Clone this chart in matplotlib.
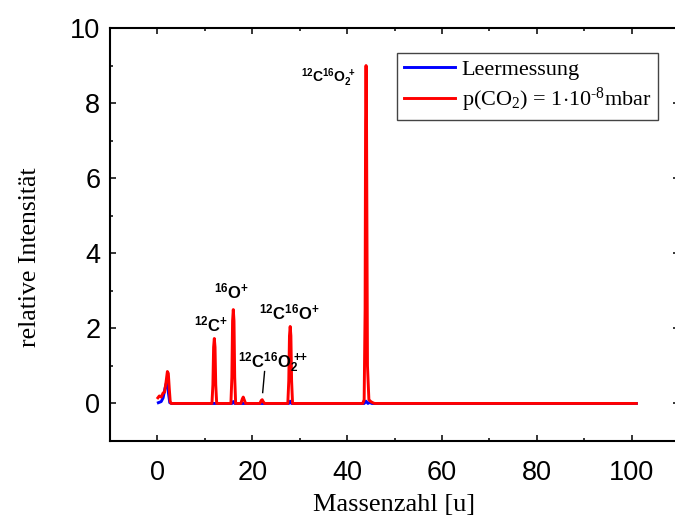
import matplotlib
matplotlib.use('Agg')
import matplotlib.pyplot as plt
from matplotlib.ticker import MultipleLocator

# --- Style Settings ---
plt.rcParams['font.family'] = ['Liberation Sans', 'DejaVu Sans']
plt.rcParams['mathtext.fontset'] = 'custom'
plt.rcParams['mathtext.rm'] = 'Liberation Serif'
plt.rcParams['mathtext.it'] = 'Liberation Serif:italic'
plt.rcParams['mathtext.bf'] = 'Liberation Sans:bold'

SERIF = ['Liberation Serif', 'DejaVu Serif']
BLUE = '#0000ff'
RED = '#ff0000'

# --- Data ---
blank_mass = [0.2, 0.8, 1.2, 1.6, 1.9, 2.1, 2.3, 2.6, 3.0,
              15.7, 16.0, 16.3,
              27.7, 28.0, 28.3,
              43.6, 44.0, 44.4, 44.8, 45.2,
              101.0]
blank_int = [0.02, 0.05, 0.15, 0.4, 0.55, 0.6, 0.3, 0.02, 0.0,
             0.0, 0.05, 0.0,
             0.0, 0.06, 0.0,
             0.0, 0.06, 0.0, 0.03, 0.0,
             0.0]

co2_mass = [0.1, 0.4, 0.8, 1.2, 1.5, 1.8, 2.1, 2.3, 2.5, 2.7, 2.9,
            11.5, 11.7, 11.85, 12.0, 12.15, 12.3, 12.5,
            15.5, 15.7, 15.85, 16.0, 16.15, 16.3, 16.5,
            17.6, 17.9, 18.1, 18.3, 18.6,
            21.6, 21.9, 22.1, 22.3, 22.6,
            27.5, 27.7, 27.85, 28.0, 28.15, 28.3, 28.5,
            43.3, 43.6, 43.8, 43.9, 44.0, 44.1, 44.3, 44.6, 45.0, 45.4, 45.8,
            101.0]
co2_int = [0.15, 0.2, 0.17, 0.28, 0.3, 0.55, 0.85, 0.8, 0.4, 0.05, 0.0,
           0.0, 0.5, 1.5, 1.73, 1.5, 0.5, 0.0,
           0.0, 0.7, 2.2, 2.5, 2.2, 0.7, 0.0,
           0.0, 0.12, 0.17, 0.1, 0.0,
           0.0, 0.08, 0.1, 0.05, 0.0,
           0.0, 0.6, 1.8, 2.05, 1.8, 0.6, 0.0,
           0.0, 0.1, 2.5, 7.5, 9.0, 7.5, 1.0, 0.1, 0.05, 0.02, 0.0,
           0.0]

# peak labels: (text, x, y, fontsize)
peak_labels = [
    (r'$\mathbf{^{12}C^{16}O_2^{\ +}}$', 36.1, 8.67, 10),
    (r'$\mathbf{^{16}O^{+}}$', 15.7, 2.98, 12),
    (r'$\mathbf{^{12}C^{+}}$', 11.4, 2.1, 12),
    (r'$\mathbf{^{12}C^{16}O_2^{\ {+}{+}}}$', 24.3, 1.09, 12),
    (r'$\mathbf{^{12}C^{16}O^{+}}$', 27.9, 2.42, 12),
]

fig = plt.figure(figsize=(6.75, 5.19), dpi=100)
ax = fig.add_axes([110 / 675, 78 / 519, 569 / 675, 413 / 519])

ax.plot(blank_mass, blank_int, color=BLUE, lw=2.1, label='Leermessung')
ax.plot(co2_mass, co2_int, color=RED, lw=2.1,
        label=r'p(CO$_2$) = 1$\cdot$10$^{\text{-}8}$mbar')

for txt, x, y, fs in peak_labels:
    ax.text(x, y, txt, ha='center', va='center', fontsize=fs)

# pointer to the small m/z 22 peak
ax.plot([22.6, 22.2], [0.85, 0.29], color='black', lw=1)

ax.set_xlim(-10, 110)
ax.set_ylim(-1, 10)
ax.xaxis.set_major_locator(MultipleLocator(20))
ax.xaxis.set_minor_locator(MultipleLocator(10))
ax.yaxis.set_major_locator(MultipleLocator(2))
ax.yaxis.set_minor_locator(MultipleLocator(1))
ax.tick_params(which='both', direction='in', top=True, right=True, width=1.1)
ax.tick_params(which='major', length=4.5, labelsize=19.5)
ax.tick_params(which='minor', length=2.3)
ax.tick_params(axis='x', pad=13.5)
ax.tick_params(axis='y', pad=7)
for sp in ax.spines.values():
    sp.set_linewidth(1.5)
ax.spines['right'].set_visible(False)  # lies just outside the cropped figure

ax.set_xlabel('Massenzahl [u]', family=SERIF, fontsize=19)
ax.set_ylabel('relative Intensität', family=SERIF, fontsize=18.5)
ax.xaxis.set_label_coords(0.5, -0.155)
ax.yaxis.set_label_coords(-0.141, 0.445)
ax.yaxis.label.set_va('center')
ax.xaxis.label.set_va('center')

leg = ax.legend(loc='upper right', bbox_to_anchor=(0.963, 0.94), borderaxespad=0,
                fancybox=False, framealpha=1, edgecolor='#444444',
                prop={'family': SERIF, 'size': 16}, handlelength=2.3,
                handletextpad=0.3, labelspacing=0.25, borderpad=0.3)
leg.get_frame().set_linewidth(1.0)

fig.savefig('out.png', dpi=100)
